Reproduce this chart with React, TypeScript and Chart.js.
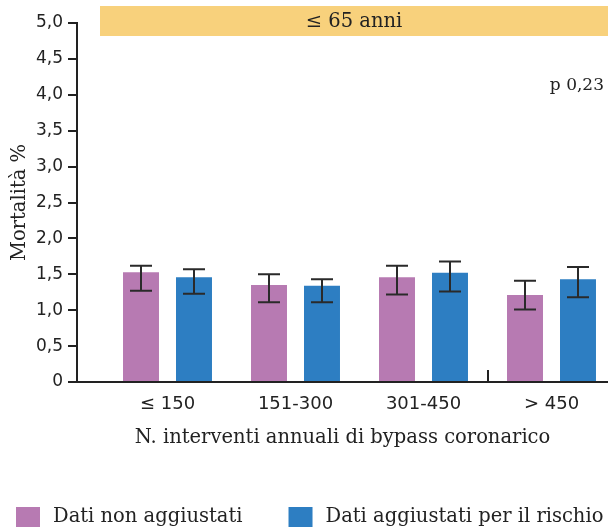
import React, { useEffect, useRef } from 'react';
import { Chart, registerables } from 'chart.js';

Chart.register(...registerables);

const categories = ['≤ 150', '151-300', '301-450', '> 450'];
const seriesLabels = ['Dati non aggiustati', 'Dati aggiustati per il rischio'];
const seriesColors = ['#B77AB2', '#2D7EC2'];
const unadjusted = [1.53, 1.35, 1.46, 1.21];
const unadjustedLow = [1.27, 1.11, 1.22, 1.01];
const unadjustedHigh = [1.62, 1.5, 1.62, 1.41];
const adjusted = [1.46, 1.34, 1.52, 1.43];
const adjustedLow = [1.23, 1.11, 1.26, 1.18];
const adjustedHigh = [1.57, 1.43, 1.68, 1.6];
const yTicks = [0, 0.5, 1, 1.5, 2, 2.5, 3, 3.5, 4, 4.5, 5];
const panelTitle = '≤ 65 anni';
const pValue = 'p 0,23';
const xTitle = 'N. interventi annuali di bypass coronarico';
const yTitle = 'Mortalità %';

const errorRanges = [
  [unadjustedLow, unadjustedHigh],
  [adjustedLow, adjustedHigh],
];

const INK = '#222222';
const SERIF = '"DejaVu Serif", serif';
const SANS = '"DejaVu Sans", sans-serif';

const errorBarPlugin = {
  id: 'errorBars',
  afterDatasetsDraw(chart: any) {
    const ctx = chart.ctx;
    const y = chart.scales.y;
    ctx.save();
    ctx.strokeStyle = '#2a2a2a';
    ctx.lineWidth = 2;
    chart.data.datasets.forEach((_ds: any, di: number) => {
      const meta = chart.getDatasetMeta(di);
      const [lows, highs] = errorRanges[di];
      meta.data.forEach((bar: any, i: number) => {
        const x = Math.round(bar.x);
        const yl = y.getPixelForValue(lows[i]);
        const yh = y.getPixelForValue(highs[i]);
        const cap = 11;
        ctx.beginPath();
        ctx.moveTo(x, yl);
        ctx.lineTo(x, yh);
        ctx.moveTo(x - cap, yl);
        ctx.lineTo(x + cap, yl);
        ctx.moveTo(x - cap, yh);
        ctx.lineTo(x + cap, yh);
        ctx.stroke();
      });
    });
    ctx.restore();
  },
};

const decorPlugin = {
  id: 'decor',
  afterDraw(chart: any) {
    const ctx = chart.ctx;
    const area = chart.chartArea;
    const xs = chart.scales.x;
    ctx.save();
    // banner
    ctx.fillStyle = '#F8D17C';
    const bTop = area.top - 17;
    const bBottom = area.top + 13;
    const bLeft = area.left + 23;
    ctx.fillRect(bLeft, bTop, area.right - bLeft, bBottom - bTop);
    ctx.fillStyle = INK;
    ctx.font = `19.5px ${SERIF}`;
    ctx.textAlign = 'center';
    ctx.textBaseline = 'middle';
    ctx.fillText(panelTitle, (bLeft + area.right) / 2, (bTop + bBottom) / 2 + 1);
    // p value
    ctx.font = `17px ${SERIF}`;
    ctx.textAlign = 'right';
    ctx.fillText(pValue, area.right - 4, area.top + 63);
    // small axis mark between groups
    const bx = Math.round(xs.getPixelForValue(2.5));
    ctx.strokeStyle = INK;
    ctx.lineWidth = 2;
    ctx.beginPath();
    ctx.moveTo(bx, area.bottom);
    ctx.lineTo(bx, area.bottom - 12);
    ctx.stroke();
    // legend
    ctx.font = `19.5px ${SERIF}`;
    ctx.textAlign = 'left';
    ctx.textBaseline = 'middle';
    let lx = 16;
    const ly = 507;
    chart.data.datasets.forEach((ds: any) => {
      ctx.fillStyle = ds.backgroundColor;
      ctx.fillRect(lx, ly, 24, 20);
      ctx.fillStyle = INK;
      ctx.fillText(ds.label, lx + 37, ly + 10);
      lx += 37 + ctx.measureText(ds.label).width + 46;
    });
    ctx.restore();
  },
};

export default function App() {
  const ref = useRef<HTMLCanvasElement | null>(null);

  useEffect(() => {
    document.body.style.margin = '0';
    if (!ref.current) return;
    const span = 128;
    const firstCenter = 167.5;
    const left = 77;
    const right = 608;
    const xMin = -(firstCenter - left) / span;
    const xMax = xMin + (right - left) / span;

    const chart = new Chart(ref.current, {
      type: 'bar',
      data: {
        datasets: [
          {
            label: seriesLabels[0],
            data: unadjusted.map((v, i) => ({ x: i, y: v })),
            backgroundColor: seriesColors[0],
            categoryPercentage: 0.828,
            barPercentage: 0.679,
          },
          {
            label: seriesLabels[1],
            data: adjusted.map((v, i) => ({ x: i, y: v })),
            backgroundColor: seriesColors[1],
            categoryPercentage: 0.828,
            barPercentage: 0.679,
          },
        ],
      },
      options: {
        responsive: false,
        animation: false,
        layout: { padding: { top: 23, right: 0, bottom: 67, left: 0 } },
        plugins: {
          legend: { display: false },
          tooltip: { enabled: false },
        },
        scales: {
          x: {
            type: 'linear',
            offset: false,
            bounds: 'data',
            min: xMin,
            max: xMax,
            afterBuildTicks: (scale: any) => {
              scale.ticks = categories.map((_, i) => ({ value: i }));
            },
            afterFit: (scale: any) => {
              scale.height = 79;
            },
            ticks: {
              callback: (v: any) => categories[Math.round(Number(v))] ?? '',
              font: { family: SANS, size: 18 },
              color: INK,
              padding: 12,
              maxRotation: 0,
              autoSkip: false,
            },
            grid: { display: false, drawTicks: false, offset: false },
            border: { display: true, color: INK, width: 2 },
            title: {
              display: true,
              text: xTitle,
              font: { family: SERIF, size: 19.5 },
              color: INK,
              padding: { top: 0, bottom: 11 },
            },
          },
          y: {
            min: 0,
            max: 5,
            afterBuildTicks: (scale: any) => {
              scale.ticks = yTicks.map((v) => ({ value: v }));
            },
            afterFit: (scale: any) => {
              scale.width = 77;
            },
            ticks: {
              callback: (v: any) => (Number(v) === 0 ? '0' : Number(v).toFixed(1).replace('.', ',')),
              font: { family: SANS, size: 17 },
              color: INK,
              padding: 5,
            },
            grid: {
              drawOnChartArea: false,
              drawTicks: true,
              tickLength: 9,
              color: INK,
              lineWidth: 2,
            },
            border: { display: true, color: INK, width: 2 },
            title: {
              display: true,
              text: yTitle,
              font: { family: SERIF, size: 19.5 },
              color: INK,
              padding: { top: 8, bottom: 0 },
            },
          },
        },
      },
      plugins: [errorBarPlugin, decorPlugin],
    } as any);
    return () => chart.destroy();
  }, []);

  return (
    <div style={{ width: 608, height: 528 }}>
      <canvas ref={ref} width={608} height={528} style={{ display: 'block' }} />
    </div>
  );
}
